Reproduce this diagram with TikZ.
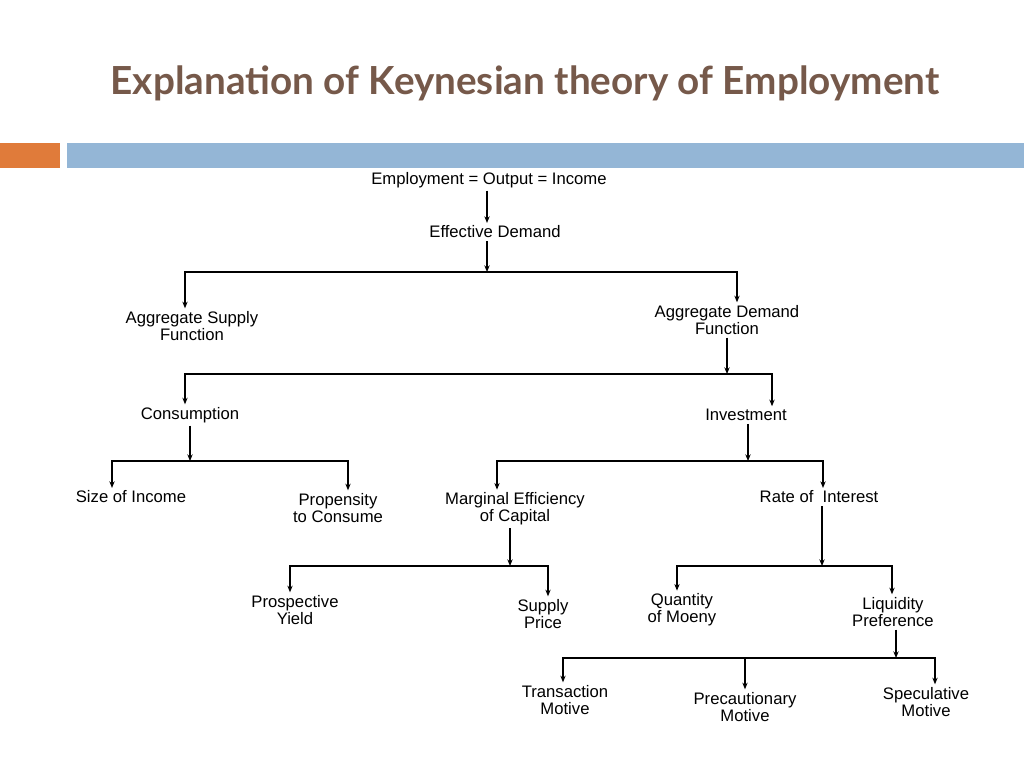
\documentclass[tikz,border=0pt]{standalone}
\usepackage{fontspec}
\setmainfont{Liberation Sans}
\newfontfamily\titlefont{Lato}
\usetikzlibrary{arrows.meta}
\definecolor{titlecol}{HTML}{76594A}
\definecolor{orangebar}{HTML}{E07B3A}
\definecolor{bluebar}{HTML}{94B6D6}
\begin{document}
\begin{tikzpicture}[x=0.75pt,y=-0.75pt,
  box/.style={align=center,inner sep=2pt,font=\fontsize{12.5}{13}\selectfont},
  arr/.style={-{Stealth[length=5pt,width=4pt]},line width=0.8pt},
  ln/.style={line width=0.8pt}]
\useasboundingbox (0,0) rectangle (1024,768);
\node[font=\titlefont\bfseries\fontsize{29}{32}\selectfont,text=titlecol] (title) at (525,83) {Explanation of Keynesian theory of Employment};
\fill[orangebar] (0,143) rectangle (60,168);
\fill[bluebar] (67,143) rectangle (1024,168);

\node[box] (emp) at (489,180) {Employment = Output = Income};
\node[box] (eff) at (495,232) {Effective Demand};
\node[box] (asf) at (192,326) {Aggregate Supply\\Function};
\node[box] (adf) at (727,320) {Aggregate Demand\\Function};
\node[box] (con) at (190,415) {Consumption};
\node[box] (inv) at (746,415) {Investment};
\node[box] (size) at (131,497) {Size of Income};
\node[box] (prop) at (338,508) {Propensity\\to Consume};
\node[box] (mec) at (515,509) {Marginal Efficiency\\of Capital};
\node[box] (roi) at (819,497) {Rate of \ Interest};
\node[box] (py) at (295,610) {Prospective\\Yield};
\node[box] (sp) at (543,614) {Supply\\Price};
\node[box] (qm) at (682,610) {Quantity\\of Moeny};
\node[box] (lp) at (893,612) {Liquidity\\Preference};
\node[box] (tm) at (565,700) {Transaction\\Motive};
\node[box] (pm) at (745,707) {Precautionary\\Motive};
\node[box] (sm) at (926,702) {Speculative\\Motive};

\draw[arr] (emp.south -| 487,0) -- (eff.north -| 487,0);
\coordinate (j1) at (487,272);
\draw[arr] (eff.south -| 487,0) -- (j1);
\draw[ln] (185,272) -- (737,272);
\draw[arr] (j1) -| (asf.north -| 185,0);
\draw[arr] (j1) -| (adf.north -| 737,0);

\coordinate (j2) at (727,374);
\draw[arr] (adf) -- (j2);
\draw[ln] (185,374) -- (772,374);
\draw[arr] (j2) -| (con.north -| 185,0);
\draw[arr] (j2) -| (inv.north -| 772,0);

\coordinate (j3) at (190,461);
\draw[arr] (con) -- (j3);
\draw[arr] (j3) -| (size.north -| 112,0);
\draw[arr] (j3) -| (prop.north -| 348,0);

\coordinate (j4) at (748,461);
\draw[arr] (inv.south -| 748,0) -- (j4);
\draw[arr] (j4) -| (mec.north -| 497,0);
\draw[arr] (j4) -| (roi.north -| 823,0);

\coordinate (j5) at (510,566);
\draw[arr] (mec.south -| 510,0) -- (j5);
\draw[arr] (j5) -| (py.north -| 290,0);
\draw[arr] (j5) -| (sp.north -| 548,0);

\coordinate (j6) at (822,566);
\draw[arr] (roi.south -| 822,0) -- (j6);
\draw[arr] (j6) -| (qm.north -| 677,0);
\draw[arr] (j6) -| (lp.north -| 892,0);

\coordinate (j7) at (896,658);
\draw[arr] (lp.south -| 896,0) -- (j7);
\draw[arr] (j7) -| (tm.north -| 563,0);
\draw[arr] (j7) -| (pm.north -| 745,0);
\draw[arr] (j7) -| (sm.north -| 935,0);
\end{tikzpicture}
\end{document}
